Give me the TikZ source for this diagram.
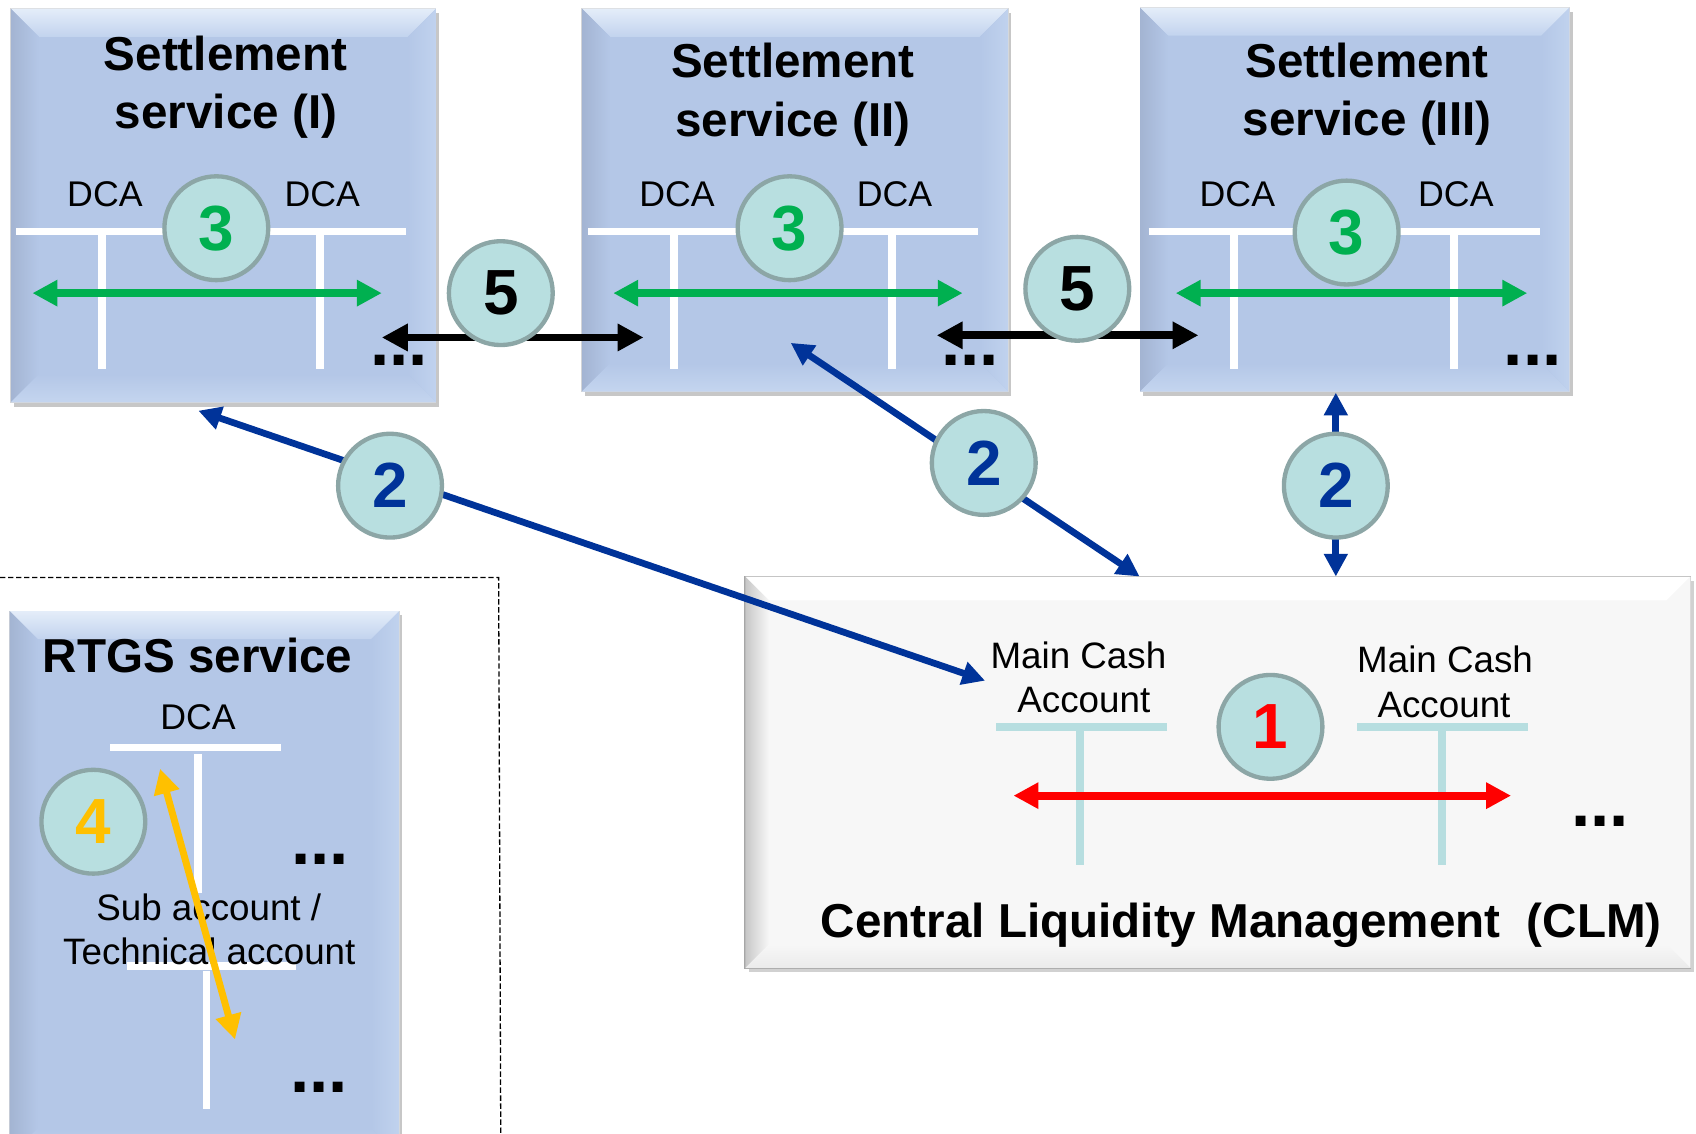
\documentclass[tikz,border=0pt]{standalone}
\usepackage{fontspec}
\setmainfont{Liberation Sans}
\usetikzlibrary{arrows.meta,calc,shadows}
\definecolor{boxblue}{HTML}{B4C7E7}
\definecolor{bevtop}{HTML}{E4EDF9}
\definecolor{bevtopb}{HTML}{C2D3EE}
\definecolor{bevleft}{HTML}{A3B4D2}
\definecolor{bevright}{HTML}{C0D2EE}
\definecolor{bevbot}{HTML}{C4D5EF}
\definecolor{circfill}{HTML}{B8DFE0}
\definecolor{circbord}{HTML}{8CA6A6}
\definecolor{ggreen}{HTML}{00B050}
\definecolor{dblue}{HTML}{003399}
\definecolor{ggold}{HTML}{FFC000}
\definecolor{tealline}{HTML}{B7DEE0}
\definecolor{clmfill}{HTML}{F7F7F7}
\newcommand\bevelbox[6]{%
  \path[#3] (#1.north west) -- (#1.north east) -- ($(#1.north east)+(-#2,#2)$) -- ($(#1.north west)+(#2,#2)$) -- cycle;
  \path[#4] (#1.north west) -- ($(#1.north west)+(#2,#2)$) -- ($(#1.south west)+(#2,-#2)$) -- (#1.south west) -- cycle;
  \path[#5] (#1.north east) -- ($(#1.north east)+(-#2,#2)$) -- ($(#1.south east)+(-#2,-#2)$) -- (#1.south east) -- cycle;
  \path[#6] (#1.south west) -- ($(#1.south west)+(#2,-#2)$) -- ($(#1.south east)+(-#2,-#2)$) -- (#1.south east) -- cycle;
}
\begin{document}
\begin{tikzpicture}[x=0.5pt,y=-0.5pt,
  box/.style={rectangle, inner sep=0pt, outer sep=0pt, fill=boxblue, draw=black!15, line width=0.4pt,
    general shadow={fill=black, opacity=0.22, shadow xshift=1.5pt, shadow yshift=-2pt}},
  clmbox/.style={rectangle, inner sep=0pt, outer sep=0pt, fill=clmfill, draw=black!35, line width=0.8pt,
    general shadow={fill=black, opacity=0.18, shadow xshift=1.5pt, shadow yshift=-2pt}},
  num/.style={circle, draw=circbord, fill=circfill, line width=2pt, minimum size=48pt, inner sep=0pt,
    font=\fontsize{29.5}{29.5}\selectfont\bfseries},
  ttl/.style={anchor=base, inner sep=0pt, font=\fontsize{22}{26}\selectfont\bfseries},
  lbl/.style={anchor=base, inner sep=0pt, font=\fontsize{16.5}{20}\selectfont},
  acct/.style={anchor=base, inner sep=0pt, font=\fontsize{17}{20}\selectfont},
  dots/.style={anchor=base, inner sep=0pt, font=\fontsize{32}{32}\selectfont\bfseries},
  wline/.style={draw=white, line width=3.6pt},
  tline/.style={draw=tealline, line width=3.4pt},
  garrow/.style={draw=ggreen, line width=3.4pt, {Triangle[length=11.5pt,width=11.5pt]}-{Triangle[length=11.5pt,width=11.5pt]}},
  karrow/.style={draw=black, line width=3.6pt, {Triangle[length=12pt,width=12pt]}-{Triangle[length=12pt,width=12pt]}},
  barrow/.style={draw=dblue, line width=3.1pt, {Triangle[length=10.5pt,width=10.5pt]}-{Triangle[length=10.5pt,width=10.5pt]}},
  rarrow/.style={draw=red, line width=3.6pt, {Triangle[length=11.5pt,width=11.5pt]}-{Triangle[length=11.5pt,width=11.5pt]}},
  yarrow/.style={draw=ggold, line width=3.2pt, {Triangle[length=11.5pt,width=11.5pt]}-{Triangle[length=11.5pt,width=11.5pt]}},
  dashbox/.style={draw=black, line width=0.6pt, dash pattern=on 2.5pt off 1.2pt},
  bt/.style={shade, top color=bevtop, bottom color=bevtopb},
  bl/.style={shade, left color=bevleft, right color=boxblue},
  br/.style={shade, left color=boxblue, right color=bevright},
  bb/.style={shade, top color=boxblue, bottom color=bevbot},
  ct/.style={fill=white},
  cl/.style={shade, left color=black!22, right color=clmfill},
  cr/.style={fill=clmfill},
  cb/.style={shade, top color=clmfill, bottom color=black!8}
]
\useasboundingbox (0,0) rectangle (1568,1048);
\clip (0,0) rectangle (1568,1048);

% dashed frame
\coordinate (dA) at (0,534);
\coordinate (dB) at (461,534);
\coordinate (dC) at (463,1060);
\draw[dashbox] (dA) -- (dB) -- (dC);

% boxes
\node[box, minimum width=196.5pt, minimum height=182pt] (s1) at (206.5,190) {};
\bevelbox{s1}{26}{bt}{bl}{br}{bb}
\node[box, minimum width=197pt, minimum height=177pt] (s2) at (735,185) {};
\bevelbox{s2}{26}{bt}{bl}{br}{bb}
\node[box, minimum width=198.5pt, minimum height=177.5pt] (s3) at (1252.5,184.5) {};
\bevelbox{s3}{26}{bt}{bl}{br}{bb}
\node[box, minimum width=180pt, minimum height=252pt] (rt) at (189,817) {};
\bevelbox{rt}{26}{bt}{bl}{br}{bb}
\node[clmbox, minimum width=437pt, minimum height=181pt] (clm) at (1126,714) {};
\bevelbox{clm}{22}{ct}{cl}{cr}{cb}

% titles
\node[ttl] (t1a) at (208.5,65) {Settlement};
\node[ttl] (t1b) at (209,119) {service (I)};
\node[ttl] (t2a) at (733,72) {Settlement};
\node[ttl] (t2b) at (733,126) {service (II)};
\node[ttl] (t3a) at (1264,72) {Settlement};
\node[ttl] (t3b) at (1264,125) {service (III)};
\node[ttl] (trt) at (182.6,622) {RTGS service};
\node[ttl] (tclm) at (1147.6,867) {Central Liquidity Management~~(CLM)};

% settlement I accounts
\draw[wline] (15,214) -- (375,214);
\draw[wline] (94,214) -- (94,341);
\draw[wline] (296,214) -- (296,341);
\node[lbl] (d1a) at (97,191) {DCA};
\node[lbl] (d1b) at (298,191) {DCA};
\node[dots] (e1) at (369,338) {...};

% settlement II accounts
\draw[wline] (544,214) -- (904,214);
\draw[wline] (623,214) -- (623,341);
\draw[wline] (825,214) -- (825,341);
\node[lbl] (d2a) at (626,191) {DCA};
\node[lbl] (d2b) at (827,191) {DCA};
\node[dots] (e2) at (897,338) {...};

% settlement III accounts
\draw[wline] (1062,214) -- (1424,214);
\draw[wline] (1141,214) -- (1141,341);
\draw[wline] (1344,214) -- (1344,341);
\node[lbl] (d3a) at (1144,191) {DCA};
\node[lbl] (d3b) at (1346,191) {DCA};
\node[dots] (e3) at (1417,338) {...};

% RTGS accounts
\draw[wline] (102,691) -- (260,691);
\draw[wline] (183,697) -- (183,826);
\draw[wline] (117,893) -- (274,893);
\draw[wline] (191,898) -- (191,1025);
\node[lbl] (drt) at (183,674) {DCA};
\node[acct] (sub1) at (193,851) {Sub account /};
\node[acct] (sub2) at (193.5,892) {Technical account};
\node[dots] (e4) at (296,799) {...};
\node[dots] (e5) at (295,1010) {...};

% CLM accounts
\draw[tline] (921,672) -- (1079,672);
\draw[tline] (998.6,672) -- (998.6,800);
\draw[tline] (1255,672) -- (1413,672);
\draw[tline] (1333,672) -- (1333,800);
\node[acct] (m1a) at (997,618.5) {Main Cash};
\node[acct] (m1b) at (1002,659) {Account};
\node[acct] (m2a) at (1336,622) {Main Cash};
\node[acct] (m2b) at (1335,663.5) {Account};
\node[dots] (e6) at (1479.5,764) {...};

% connector end points
\coordinate (g1a) at (30,271);   \coordinate (g1b) at (353,271);
\coordinate (g2a) at (567,271);  \coordinate (g2b) at (890,271);
\coordinate (g3a) at (1087,271); \coordinate (g3b) at (1412,271);
\coordinate (k1a) at (353,312);  \coordinate (k1b) at (595,312);
\coordinate (k2a) at (866,310);  \coordinate (k2b) at (1108,310);
\coordinate (b1a) at (183.4,379.7); \coordinate (b1b) at (910.7,629.3);
\coordinate (b2a) at (731,317);  \coordinate (b2b) at (1053.6,533);
\coordinate (b3a) at (1235,363); \coordinate (b3b) at (1235,533);
\coordinate (r1a) at (937,735.6); \coordinate (r1b) at (1397,735.6);
\coordinate (y1a) at (148,710.7); \coordinate (y1b) at (217.3,961);

% connectors
\draw[garrow] (g1a) -- (g1b);
\draw[garrow] (g2a) -- (g2b);
\draw[garrow] (g3a) -- (g3b);
\draw[karrow] (k1a) -- (k1b);
\draw[karrow] (k2a) -- (k2b);
\draw[barrow] (b1a) -- (b1b);
\draw[barrow] (b2a) -- (b2b);
\draw[barrow] (b3a) -- (b3b);
\draw[rarrow] (r1a) -- (r1b);
\draw[yarrow] (y1a) -- (y1b);

% numbered circles
\node[num, text=ggreen] (n3a) at (200,211) {3};
\node[num, text=ggreen] (n3b) at (730,211) {3};
\node[num, text=ggreen] (n3c) at (1245,215) {3};
\node[num] (n5a) at (463,271) {5};
\node[num] (n5b) at (996,267) {5};
\node[num, text=dblue] (n2a) at (360.6,449) {2};
\node[num, text=dblue] (n2b) at (909.5,428) {2};
\node[num, text=dblue] (n2c) at (1235,449) {2};
\node[num, text=red] (n1) at (1174.6,672) {1};
\node[num, text=ggold] (n4) at (86.3,759.7) {4};
\end{tikzpicture}
\end{document}
